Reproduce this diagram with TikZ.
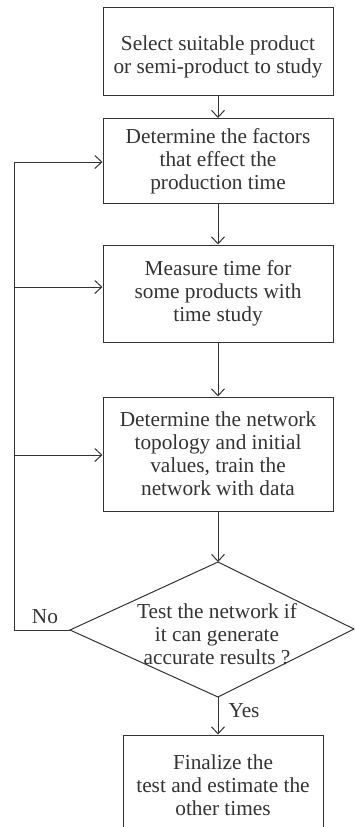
\documentclass[tikz,border=0pt]{standalone}
\usepackage{fontspec}
\setmainfont{Liberation Serif}
\usetikzlibrary{arrows.meta}
\definecolor{ink}{HTML}{333333}
\tikzset{
  box/.style={draw=ink, line width=1pt, text=ink, align=center, inner sep=0pt,
    font=\fontsize{21.3}{23}\selectfont},
  lbl/.style={text=ink, font=\fontsize{21.3}{23}\selectfont, inner sep=0pt},
  arr/.style={draw=ink, line width=1pt, -{Straight Barb[length=7pt,width=13pt,line width=1pt]}},
  ln/.style={draw=ink, line width=1pt}
}
\begin{document}
\begin{tikzpicture}[x=1pt,y=-1pt]
\useasboundingbox (0,0) rectangle (355,827);
\clip (0,0) rectangle (355,827);
\node[box, minimum width=230pt, minimum height=88pt] (b1) at (218,51) {};
\node[lbl, align=center] (t1) at (218,57)
  {Select suitable product\\or semi-product to study};
\node[box, minimum width=230pt, minimum height=85pt] (b2) at (218,161)
  {Determine the factors\\that effect the\\production time};
\node[box, minimum width=230pt, minimum height=97pt] (b3) at (218,293.5)
  {Measure time for\\some products with\\time study};
\node[box, minimum width=230pt, minimum height=114pt] (b4) at (218,454)
  {Determine the network\\topology and initial\\values, train the\\network with data};
\coordinate (dt) at (218,562);
\coordinate (db) at (218,697);
\coordinate (dl) at (70,630);
\coordinate (dr) at (354,629);
\draw[ln] (dt) -- (dr) -- (db) -- (dl) -- cycle;
\node[lbl, align=center] (dtext) at (217,634)
  {Test the network if\\it can generate\\accurate results ?};
\node[box, minimum width=200pt, minimum height=100pt] (b5) at (223,785)
  {Finalize the\\test and estimate the\\other times};
\coordinate (f1) at (14,162);
\coordinate (f2) at (14,287);
\coordinate (f3) at (14,455);
\draw[arr] (b1.south) -- (b2.north);
\draw[arr] (b2.south) -- (b3.north);
\draw[arr] (b3.south) -- (b4.north);
\draw[arr] (b4.south) -- (dt);
\draw[arr] (db) -- (db |- b5.north);
\draw[ln] (dl) -| (f1);
\draw[arr] (f1) -- (f1 -| b2.west);
\draw[arr] (f2) -- (f2 -| b3.west);
\draw[arr] (f3) -- (f3 -| b4.west);
\node[lbl] (no) at (45,617) {No};
\node[lbl] (yes) at (244,711) {Yes};
\end{tikzpicture}
\end{document}
